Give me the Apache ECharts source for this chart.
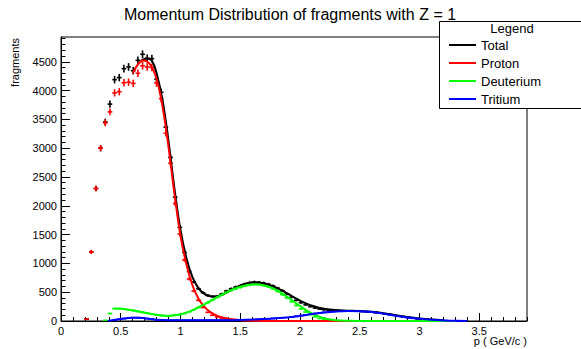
<!DOCTYPE html>
<html>
<head>
<meta charset="utf-8">
<script src="https://cdn.jsdelivr.net/npm/echarts@6/dist/echarts.min.js"></script>
<style>
  html, body { margin: 0; padding: 0; background: #fff; }
  #chart { width: 581px; height: 349px; }
</style>
</head>
<body>
<div id="chart"></div>
<script>
// Histogram binning: 100 bins over p = 0 .. 3.9 GeV/c
const binLow = 0;
const binHigh = 3.9;
const nBins = 100;

// Bin contents (fragments per bin), bins 0..99
const total = [
  0, 0, 0, 0, 0, 35, 1200, 2300, 3000, 3455,
  3765, 4190, 4225, 4380, 4410, 4345, 4525, 4630, 4560, 4555,
  4200, 3970, 3365, 2840, 2150, 1625, 1190, 860, 680, 560,
  490, 445, 425, 430, 470, 520, 560, 590, 610, 640,
  665, 675, 670, 658, 638, 608, 570, 525, 470, 415,
  360, 318, 280, 250, 225, 207, 195, 187, 182, 178,
  175, 174, 173, 171, 167, 163, 157, 148, 138, 126,
  113, 100, 86, 72, 60, 48, 38, 30, 23, 17,
  13, 9, 6, 4, 3, 2, 1, 0, 0, 0,
  0, 0, 0, 0, 0, 0, 0, 0, 0, 0
];
const proton = [
  0, 0, 0, 0, 0, 35, 1200, 2300, 3000, 3440,
  3630, 3960, 3980, 4135, 4145, 4125, 4300, 4430, 4410, 4400,
  4130, 3860, 3260, 2740, 2040, 1510, 1060, 730, 520, 360,
  235, 150, 100, 70, 50, 38, 27, 18, 12, 7,
  4, 2, 1, 0, 0, 0, 0, 0, 0, 0,
  0, 0, 0, 0, 0, 0, 0, 0, 0, 0,
  0, 0, 0, 0, 0, 0, 0, 0, 0, 0,
  0, 0, 0, 0, 0, 0, 0, 0, 0, 0,
  0, 0, 0, 0, 0, 0, 0, 0, 0, 0,
  0, 0, 0, 0, 0, 0, 0, 0, 0, 0
];
const deuterium = [
  0, 0, 0, 0, 0, 0, 0, 0, 0, 12,
  130, 215, 215, 205, 195, 180, 165, 150, 135, 120,
  105, 95, 90, 90, 98, 112, 130, 160, 195, 235,
  280, 320, 365, 410, 455, 495, 530, 560, 585, 610,
  628, 638, 635, 620, 595, 560, 515, 460, 400, 335,
  270, 210, 155, 110, 72, 44, 25, 13, 7, 3,
  1, 0, 0, 0, 0, 0, 0, 0, 0, 0,
  0, 0, 0, 0, 0, 0, 0, 0, 0, 0,
  0, 0, 0, 0, 0, 0, 0, 0, 0, 0,
  0, 0, 0, 0, 0, 0, 0, 0, 0, 0
];
const tritium = [
  0, 0, 0, 0, 0, 0, 0, 0, 0, 0,
  5, 15, 30, 42, 52, 58, 58, 50, 42, 32,
  20, 14, 12, 12, 12, 12, 12, 12, 12, 12,
  12, 12, 13, 13, 14, 14, 15, 16, 18, 20,
  23, 26, 30, 34, 39, 44, 49, 54, 60, 70,
  82, 95, 108, 118, 130, 140, 150, 158, 165, 170,
  172, 173, 172, 170, 166, 162, 156, 147, 137, 125,
  112, 99, 85, 71, 59, 47, 37, 29, 22, 16,
  12, 9, 6, 4, 3, 2, 1, 0, 0, 0,
  0, 0, 0, 0, 0, 0, 0, 0, 0, 0
];

// Fitted curves, sampled as [p, fragments]
const totalFit = [
  [0.67, 4520], [0.72, 4555], [0.76, 4520], [0.8, 4300], [0.85, 3830], [0.9, 3120],
  [0.95, 2290], [1.0, 1580], [1.05, 1090], [1.1, 760], [1.15, 570], [1.2, 470],
  [1.25, 430], [1.3, 425], [1.35, 460], [1.4, 515], [1.45, 570], [1.5, 615],
  [1.55, 650], [1.6, 670], [1.65, 668], [1.7, 650], [1.75, 620], [1.8, 580],
  [1.85, 530], [1.9, 470], [1.95, 410], [2.0, 355], [2.05, 305], [2.1, 265],
  [2.15, 235], [2.2, 212], [2.3, 190], [2.4, 180], [2.5, 172], [2.6, 160],
  [2.7, 135], [2.8, 100], [2.9, 68], [3.0, 42], [3.1, 24], [3.2, 12]
];
const protonFit = [
  [0.6, 4300], [0.65, 4470], [0.69, 4520], [0.75, 4440], [0.8, 4200], [0.85, 3720],
  [0.9, 3020], [0.95, 2200], [1.0, 1480], [1.05, 980], [1.1, 620], [1.15, 390],
  [1.2, 245], [1.25, 155], [1.3, 98], [1.35, 62], [1.4, 40], [1.45, 25],
  [1.5, 15], [1.6, 6], [1.8, 1], [2.0, 0], [3.0, 0]
];
const deuteriumFit = [
  [0.45, 215], [0.5, 212], [0.55, 200], [0.6, 185], [0.65, 165], [0.7, 145],
  [0.75, 125], [0.8, 108], [0.85, 96], [0.9, 92], [0.95, 98], [1.0, 115],
  [1.05, 145], [1.1, 185], [1.15, 235], [1.2, 290], [1.25, 345], [1.3, 405],
  [1.35, 460], [1.4, 515], [1.45, 560], [1.5, 595], [1.55, 620], [1.6, 635],
  [1.65, 633], [1.7, 615], [1.75, 585], [1.8, 540], [1.85, 480], [1.9, 410],
  [1.95, 335], [2.0, 260], [2.05, 190], [2.1, 130], [2.15, 82], [2.2, 48],
  [2.3, 14], [2.4, 4], [2.6, 0], [3.3, 0]
];
const tritiumFit = [
  [0.4, 5], [0.45, 20], [0.5, 35], [0.55, 48], [0.6, 55], [0.65, 55],
  [0.7, 48], [0.75, 35], [0.8, 22], [0.9, 13], [1.0, 12], [1.2, 12],
  [1.4, 15], [1.5, 19], [1.6, 25], [1.7, 34], [1.8, 47], [1.9, 63],
  [2.0, 88], [2.1, 120], [2.2, 148], [2.3, 166], [2.4, 173], [2.5, 170],
  [2.6, 157], [2.7, 128], [2.8, 92], [2.9, 62], [3.0, 40], [3.1, 22],
  [3.2, 10], [3.3, 3], [3.4, 0]
];

// Axis ticks and labels
const xMajorTicks = [0, 0.5, 1, 1.5, 2, 2.5, 3, 3.5];
const xMinorTicks = [];
for (let k = 0; k <= 39; k++) xMinorTicks.push(+(k * 0.1).toFixed(1));
const yMajorTicks = [0, 500, 1000, 1500, 2000, 2500, 3000, 3500, 4000, 4500];
const yMinorTicks = [];
for (let k = 0; k <= 49; k++) yMinorTicks.push(k * 100);
const yMax = 4930;

const names = ['Total', 'Proton', 'Deuterium', 'Tritium'];
const colors = ['#000000', '#ff0000', '#00ff00', '#0000ff'];
const histos = [total, proton, deuterium, tritium];
const fits = [totalFit, protonFit, deuteriumFit, tritiumFit];

const binWidth = (binHigh - binLow) / nBins;
const centers = [];
for (let i = 0; i < nBins; i++) centers.push(binLow + (i + 0.5) * binWidth);

const font = '"Liberation Sans", Arial, Helvetica, sans-serif';

// Error-bar crosses: horizontal bar spans the bin, vertical bar is +-sqrt(N)
function crossRenderer(color) {
  return function (params, api) {
    const x = api.value(0);
    const y = api.value(1);
    if (!(y > 0)) return null;
    const e = Math.sqrt(y);
    const l = api.coord([x - binWidth / 2, y]);
    const r = api.coord([x + binWidth / 2, y]);
    const t = api.coord([x, y + e]);
    const b = api.coord([x, Math.max(0, y - e)]);
    return {
      type: 'group',
      children: [
        { type: 'line', shape: { x1: l[0], y1: l[1], x2: r[0], y2: r[1] },
          style: { stroke: color, lineWidth: 1.6 } },
        { type: 'line', shape: { x1: t[0], y1: t[1], x2: b[0], y2: b[1] },
          style: { stroke: color, lineWidth: 1.6 } }
      ]
    };
  };
}

const series = [];
histos.forEach(function (h, k) {
  series.push({
    name: names[k],
    type: 'custom',
    xAxisIndex: 0,
    yAxisIndex: 0,
    clip: true,
    renderItem: crossRenderer(colors[k]),
    encode: { x: 0, y: 1 },
    itemStyle: { color: colors[k] },
    data: centers.map(function (c, i) { return [c, h[i]]; }),
    z: 2
  });
});
fits.forEach(function (f, k) {
  series.push({
    name: names[k],
    type: 'line',
    xAxisIndex: 0,
    yAxisIndex: 0,
    data: f,
    smooth: 0.4,
    showSymbol: false,
    clip: true,
    color: colors[k],
    lineStyle: { color: colors[k], width: 2 },
    z: 3
  });
});

const plain = function (v) { return String(v); };

const chart = echarts.init(document.getElementById('chart'), null, { renderer: 'svg' });
chart.setOption({
  animation: false,
  backgroundColor: '#ffffff',
  grid: {
    left: 61, top: 37, width: 466, height: 284,
    show: true, borderColor: '#000000', borderWidth: 1, backgroundColor: 'transparent'
  },
  xAxis: [
    {
      type: 'value', min: binLow, max: binHigh,
      axisLine: { show: true, lineStyle: { color: '#000', width: 1 } },
      axisTick: { show: true, inside: true, length: 8, customValues: xMajorTicks,
                  lineStyle: { color: '#000', width: 1 } },
      axisLabel: { show: true, customValues: xMajorTicks, margin: 4, color: '#000',
                   fontSize: 11, fontFamily: font, formatter: plain },
      splitLine: { show: false }
    },
    {
      type: 'value', min: binLow, max: binHigh, position: 'bottom',
      axisLine: { show: false },
      axisTick: { show: true, inside: true, length: 4, customValues: xMinorTicks,
                  lineStyle: { color: '#000', width: 1 } },
      axisLabel: { show: false },
      splitLine: { show: false }
    }
  ],
  yAxis: [
    {
      type: 'value', min: 0, max: yMax,
      axisLine: { show: true, lineStyle: { color: '#000', width: 1 } },
      axisTick: { show: true, inside: true, length: 9, customValues: yMajorTicks,
                  lineStyle: { color: '#000', width: 1 } },
      axisLabel: { show: true, customValues: yMajorTicks, margin: 4, color: '#000',
                   fontSize: 11, fontFamily: font, formatter: plain },
      splitLine: { show: false }
    },
    {
      type: 'value', min: 0, max: yMax, position: 'left',
      axisLine: { show: false },
      axisTick: { show: true, inside: true, length: 4.5, customValues: yMinorTicks,
                  lineStyle: { color: '#000', width: 1 } },
      axisLabel: { show: false },
      splitLine: { show: false }
    }
  ],
  legend: {
    orient: 'vertical',
    left: 444, top: 33,
    icon: 'rect',
    itemWidth: 27, itemHeight: 2, itemGap: 4,
    selectedMode: false,
    z: 20,
    textStyle: { color: '#000', fontSize: 13, fontFamily: font, lineHeight: 14 },
    data: names.map(function (n, k) { return { name: n, itemStyle: { color: colors[k] } }; })
  },
  graphic: [
    {
      type: 'text', x: 290, y: 14, z: 10,
      style: { text: 'Momentum Distribution of fragments with Z = 1', fill: '#000',
               font: '16px ' + font, align: 'center', verticalAlign: 'middle' }
    },
    {
      type: 'text', x: 15, y: 38, rotation: Math.PI / 2, z: 10,
      style: { text: 'fragments', fill: '#000', font: '11px ' + font,
               align: 'right', verticalAlign: 'middle' }
    },
    {
      type: 'text', x: 527, y: 341, z: 10,
      style: { text: 'p ( GeV/c )', fill: '#000', font: '11px ' + font,
               align: 'right', verticalAlign: 'middle' }
    },
    {
      type: 'rect', z: 15,
      shape: { x: 439.5, y: 21.5, width: 160, height: 87 },
      style: { fill: '#ffffff', stroke: '#000000', lineWidth: 1 }
    },
    {
      type: 'text', x: 512, y: 28, z: 16,
      style: { text: 'Legend', fill: '#000', font: '13px ' + font,
               align: 'center', verticalAlign: 'middle' }
    }
  ],
  series: series
});
</script>
</body>
</html>
